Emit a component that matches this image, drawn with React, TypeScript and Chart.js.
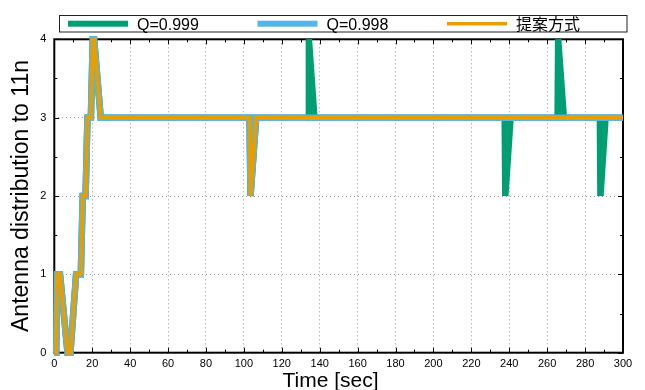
import React, { useEffect, useRef } from 'react';
import { Chart, registerables } from 'chart.js';

Chart.register(...registerables);

// ---- data ----
const q999Times = [0, 1, 1.5, 3, 7, 8.5, 11.5, 14, 15, 16.5, 17.5, 19.3, 20.3, 21, 24.5, 103, 103.5, 106.5, 134, 134.3, 137.2, 237.6, 237.9, 240.7, 265.5, 265.8, 268.8, 287.8, 288.1, 290.8, 300];
const q999Values = [0, 0, 1, 1, 0, 0, 1, 1, 2, 2, 3, 3, 4, 4, 3, 3, 2, 3, 3, 4, 3, 3, 2, 3, 3, 4, 3, 3, 2, 3, 3];

const q998Times = [0, 1, 1.5, 3, 7, 8.5, 11.5, 14, 15, 16.5, 17.5, 19.3, 20.3, 21, 24.5, 103, 103.5, 106.5, 300];
const q998Values = [0, 0, 1, 1, 0, 0, 1, 1, 2, 2, 3, 3, 4, 4, 3, 3, 2, 3, 3];

const proposedTimes = [0, 1, 1.5, 3, 7, 8.5, 11.5, 14, 15, 16.5, 17.5, 19.3, 20.3, 21, 24.5, 103, 103.5, 106.5, 300];
const proposedValues = [0, 0, 1, 1, 0, 0, 1, 1, 2, 2, 3, 3, 4, 4, 3, 3, 2, 3, 3];

const seriesNames = ['Q=0.999', 'Q=0.998', '提案方式'];
const seriesColors = ['#009E73', '#56B4E9', '#E69F00'];

const xTickValues = [0, 20, 40, 60, 80, 100, 120, 140, 160, 180, 200, 220, 240, 260, 280, 300];
const xMinorTickValues = [10, 30, 50, 70, 90, 110, 130, 150, 170, 190, 210, 230, 250, 270, 290];
const yTickValues = [0, 1, 2, 3, 4];
const yMinorTickValues = [0.5, 1.5, 2.5, 3.5];

const xTitle = 'Time [sec]';
const yTitle = 'Antenna distribution to 11n';

const FONT = "'Liberation Sans', Arial, Helvetica, sans-serif";

const toPoints = (xs: number[], ys: number[]) => xs.map((x, i) => ({ x, y: ys[i] }));

const framePlugin = {
  id: 'frameTicks',
  beforeDatasetsDraw(chart: any) {
    const { ctx, chartArea, scales } = chart;
    const { left, right, top, bottom } = chartArea;
    const x = scales.x;
    const y = scales.y;
    ctx.save();
    ctx.strokeStyle = '#000';
    ctx.lineWidth = 1;
    ctx.beginPath();
    const drawX = (v: number, len: number) => {
      const px = Math.round(x.getPixelForValue(v)) + 0.5;
      ctx.moveTo(px, bottom);
      ctx.lineTo(px, bottom - len);
      ctx.moveTo(px, top);
      ctx.lineTo(px, top + len);
    };
    const drawY = (v: number, len: number) => {
      const py = Math.round(y.getPixelForValue(v)) + 0.5;
      ctx.moveTo(left, py);
      ctx.lineTo(left + len, py);
      ctx.moveTo(right, py);
      ctx.lineTo(right - len, py);
    };
    xTickValues.forEach((v) => drawX(v, 5));
    xMinorTickValues.forEach((v) => drawX(v, 3));
    yTickValues.forEach((v) => drawY(v, 5));
    yMinorTickValues.forEach((v) => drawY(v, 3));
    ctx.stroke();
    ctx.lineWidth = 2;
    ctx.strokeRect(left, top, right - left, bottom - top);
    ctx.restore();
  },
  afterDraw(chart: any) {
    const { ctx, chartArea } = chart;
    ctx.save();
    // x title
    ctx.fillStyle = '#000';
    ctx.font = `21px ${FONT}`;
    ctx.textAlign = 'center';
    ctx.textBaseline = 'alphabetic';
    ctx.fillText(xTitle, 330.5, 387);
    // legend
    const boxL = 59.5, boxT = 15.5, boxR = 627, boxB = 32;
    ctx.strokeStyle = '#222';
    ctx.lineWidth = 1;
    ctx.strokeRect(boxL, boxT, boxR - boxL, boxB - boxT);
    const starts = [68, 257.5, 447];
    const widths = [6, 6, 3.5];
    ctx.font = `16px ${FONT}, 'Noto Sans CJK JP'`;
    ctx.textAlign = 'left';
    ctx.textBaseline = 'alphabetic';
    seriesNames.forEach((name, i) => {
      ctx.fillStyle = seriesColors[i];
      ctx.fillRect(starts[i], 23.7 - widths[i] / 2, 60, widths[i]);
      ctx.fillStyle = '#000';
      ctx.fillText(name, starts[i] + 69, 30);
    });
    ctx.restore();
  },
};

export default function App() {
  const canvasRef = useRef<HTMLCanvasElement | null>(null);

  useEffect(() => {
    document.body.style.margin = '0';
    const canvas = canvasRef.current;
    if (!canvas) return;
    const widthsData = [6.5, 6.5, 4];
    const pointsList = [
      toPoints(q999Times, q999Values),
      toPoints(q998Times, q998Values),
      toPoints(proposedTimes, proposedValues),
    ];
    const chart = new Chart(canvas, {
      type: 'line',
      data: {
        datasets: seriesNames.map((name, i) => ({
          label: name,
          data: pointsList[i],
          borderColor: seriesColors[i],
          backgroundColor: seriesColors[i],
          borderWidth: widthsData[i],
          pointRadius: 0,
          pointHoverRadius: 0,
          tension: 0,
          fill: false,
          clip: false as any,
          borderJoinStyle: 'miter' as const,
          borderCapStyle: 'butt' as const,
          order: 3 - i,
        })),
      },
      options: {
        responsive: false,
        animation: false,
        devicePixelRatio: 1,
        events: [],
        layout: { padding: { top: 39.3, right: 22, left: 0, bottom: 0 } },
        plugins: {
          legend: { display: false },
          tooltip: { enabled: false },
        },
        scales: {
          x: {
            type: 'linear',
            min: 0,
            max: 300,
            afterBuildTicks: (scale: any) => {
              scale.ticks = xTickValues.map((v) => ({ value: v }));
            },
            afterFit: (scale: any) => {
              scale.height = 37.3;
            },
            ticks: {
              autoSkip: false,
              maxRotation: 0,
              padding: 5,
              color: '#000',
              font: { family: FONT, size: 11 },
              callback: (v: any) => String(v),
            },
            grid: {
              drawTicks: false,
              lineWidth: 1,
              color: (c: any) => (c.tick && c.tick.value > 0 && c.tick.value < 300 ? '#9a9a9a' : 'rgba(0,0,0,0)'),
            },
            border: { display: false, dash: [1, 3] },
          },
          y: {
            type: 'linear',
            min: 0,
            max: 4,
            afterBuildTicks: (scale: any) => {
              scale.ticks = yTickValues.map((v) => ({ value: v }));
            },
            afterFit: (scale: any) => {
              scale.width = 54.3;
            },
            ticks: {
              padding: 8,
              color: '#000',
              font: { family: FONT, size: 11 },
              callback: (v: any) => String(v),
            },
            grid: {
              drawTicks: false,
              lineWidth: 1,
              color: (c: any) => (c.tick && c.tick.value > 0 && c.tick.value < 4 ? '#9a9a9a' : 'rgba(0,0,0,0)'),
            },
            border: { display: false, dash: [1, 3] },
            title: {
              display: true,
              text: yTitle,
              color: '#000',
              font: { family: FONT, size: 23, weight: 'normal' },
              padding: { top: 8, bottom: 0 },
            },
          },
        },
      },
      plugins: [framePlugin],
    });
    return () => chart.destroy();
  }, []);

  return (
    <div style={{ position: 'absolute', left: 0, top: 0, width: 645, height: 390 }}>
      <canvas ref={canvasRef} width={645} height={390} style={{ width: 645, height: 390, display: 'block' }} />
    </div>
  );
}
